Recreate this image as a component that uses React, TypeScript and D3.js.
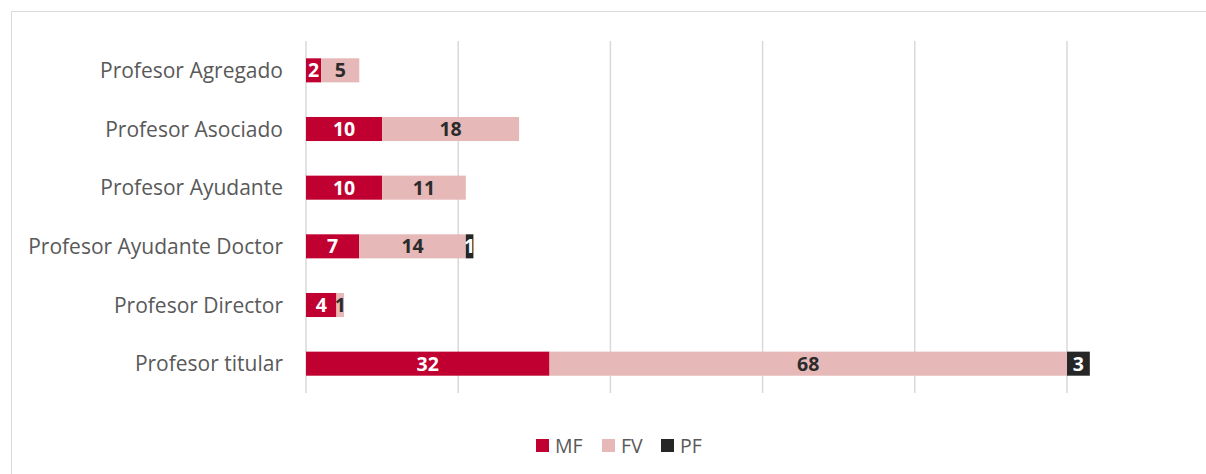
import React from "react";
import * as d3 from "d3";

const categories = [
  "Profesor Agregado",
  "Profesor Asociado",
  "Profesor Ayudante",
  "Profesor Ayudante Doctor",
  "Profesor Director",
  "Profesor titular",
];
const MF = [2, 10, 10, 7, 4, 32];
const FV = [5, 18, 11, 14, 1, 68];
const PF = [0, 0, 0, 1, 0, 3];
const seriesNames = ["MF", "FV", "PF"];
const seriesColors = ["#C00030", "#E6B8B7", "#262626"];
const labelColors = ["#FFFFFF", "#2B2B2B", "#FFFFFF"];
const xTicks = [0, 20, 40, 60, 80, 100];

const W = 1206;
const H = 474;
const FONT = "'Open Sans', sans-serif";

export default function App() {
  const x = d3.scaleLinear().domain([0, 100]).range([306, 1067]);
  const y = d3.scaleBand<string>().domain(categories).range([41, 393]).paddingInner(0.59).paddingOuter(0.295);
  const values = [MF, FV, PF];
  const stackData = categories.map((c, i) => ({ cat: c, MF: MF[i], FV: FV[i], PF: PF[i] }));
  const stacked = d3.stack<any>().keys(seriesNames)(stackData);

  const legendX = [536, 602, 661];

  return (
    <svg width={W} height={H} style={{ position: "absolute", left: 0, top: 0 }}>
      <rect x={0} y={0} width={W} height={H} fill="#fff" />
      <rect x={11.5} y={11.5} width={W + 10} height={H + 10} fill="none" stroke="#D9D9D9" strokeWidth={1} />
      {xTicks.map((t) => (
        <line key={t} x1={x(t)} x2={x(t)} y1={41} y2={393} stroke="#D9D9D9" strokeWidth={1.5} />
      ))}
      {stacked.map((s, si) => (
        <g key={s.key}>
          {s.map((d, i) => {
            const v = values[si][i];
            if (!v) return null;
            const x0 = x(d[0]);
            const x1 = x(d[1]);
            const yy = y(categories[i])!;
            return (
              <g key={i}>
                <rect x={x0} y={yy} width={x1 - x0} height={y.bandwidth()} fill={seriesColors[si]} />
                <text
                  x={(x0 + x1) / 2}
                  y={yy + y.bandwidth() / 2}
                  dy="0.36em"
                  textAnchor="middle"
                  fontFamily={FONT}
                  fontWeight="bold"
                  fontSize={19.5}
                  fill={labelColors[si]}
                >
                  {v}
                </text>
              </g>
            );
          })}
        </g>
      ))}
      {categories.map((c) => (
        <text
          key={c}
          x={283}
          y={y(c)! + y.bandwidth() / 2}
          dy="0.36em"
          textAnchor="end"
          fontFamily={FONT}
          fontSize={21}
          fill="#595959"
        >
          {c}
        </text>
      ))}
      {seriesNames.map((n, i) => (
        <g key={n}>
          <rect x={legendX[i]} y={439} width={13} height={13} fill={seriesColors[i]} />
          <text x={legendX[i] + 19} y={445.5} dy="0.36em" fontFamily={FONT} fontSize={19.5} fill="#595959">
            {n}
          </text>
        </g>
      ))}
    </svg>
  );
}
